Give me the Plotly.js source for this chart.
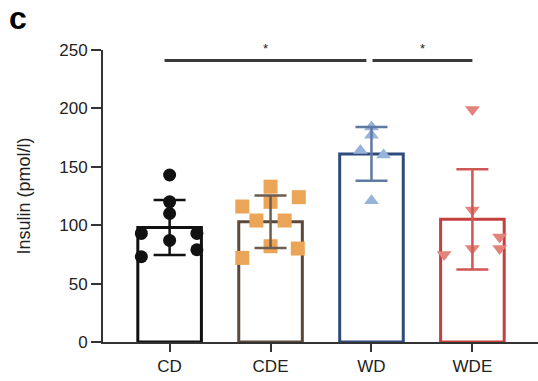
<!DOCTYPE html>
<html>
<head>
<meta charset="utf-8">
<script src="https://cdn.plot.ly/plotly-3.0.1.min.js"></script>
<style>html,body{margin:0;padding:0;background:#fff}#chart{width:538px;height:381px}</style>
</head>
<body>
<div id="chart"></div>
<script>
// ---- data ----
const groups = ["CD", "CDE", "WD", "WDE"];
const means = [98, 103, 161, 105];
const sds = [23.5, 22.5, 23, 43];
const cdValues = [143, 120, 110, 93, 93, 87, 73, 79];
const cdJitter = [0, 0, 0, -0.28, 0.27, 0, -0.28, 0.27];
const cdeValues = [133, 120, 124, 116, 104, 104, 82, 80, 72];
const cdeJitter = [0, 0, 0.28, -0.28, -0.14, 0.14, 0, 0.27, -0.28];
const wdValues = [184, 177, 164, 160, 121];
const wdJitter = [0, 0, -0.11, 0.12, 0];
const wdeValues = [199, 113, 90, 80, 80, 75];
const wdeJitter = [0, 0, 0.27, 0.27, 0, -0.28];
const comparisons = [[0, 2], [2, 3]];
const compLabels = ["*", "*"];
const compLevel = 241;
const yTicks = [0, 50, 100, 150, 200, 250];

// ---- styles ----
const barLine = ["#111111", "#5b4a3b", "#2f4b7c", "#c4403e"];
const errColor = ["#111111", "#6b5d50", "#5f7aa3", "#cf5753"];
const ptColor = ["#111111", "#eba557", "#98b3d9", "#e3837a"];
const symbols = ["circle", "square", "triangle-up", "triangle-down"];
const ptSize = [13, 14, 13, 13];
const pts = [[cdValues, cdJitter], [cdeValues, cdeJitter], [wdValues, wdJitter], [wdeValues, wdeJitter]];

const traces = [];
groups.forEach((g, i) => {
  traces.push({
    type: "bar", x: [i], y: [means[i]], width: 0.63,
    marker: {color: "rgba(255,255,255,0)", line: {color: barLine[i], width: 3}},
    hoverinfo: "skip", showlegend: false
  });
});
groups.forEach((g, i) => {
  const [vals, jit] = pts[i];
  traces.push({
    type: "scatter", mode: "markers",
    x: vals.map((v, k) => i + jit[k]), y: vals,
    marker: {symbol: symbols[i], size: ptSize[i], color: ptColor[i], line: {width: 0}},
    showlegend: false, hoverinfo: "skip"
  });
});
groups.forEach((g, i) => {
  traces.push({
    type: "scatter", mode: "markers", x: [i], y: [means[i]],
    marker: {size: 1, color: "rgba(0,0,0,0)"},
    error_y: {type: "data", array: [sds[i]], visible: true, color: errColor[i], thickness: 2.5, width: 16},
    showlegend: false, hoverinfo: "skip"
  });
});

const shapes = [];
const annotations = [];
comparisons.forEach((c, k) => {
  const x0 = c[0] + (k === 0 ? -0.05 : 0.01);
  const x1 = c[1] + (k === 0 ? -0.05 : 0.0);
  shapes.push({type: "line", xref: "x", yref: "y", x0: x0, x1: x1, y0: compLevel, y1: compLevel,
    line: {color: "#3a3a3a", width: 3}});
  annotations.push({xref: "x", yref: "y", x: (x0 + x1) / 2, y: compLevel + 2, text: compLabels[k],
    showarrow: false, yanchor: "bottom", font: {family: "Liberation Sans, Arial", size: 13, color: "#222"}});
});
annotations.push({xref: "paper", yref: "paper", x: 0, y: 1, xshift: -96, yshift: 52, text: "<b>c</b>",
  showarrow: false, xanchor: "left", yanchor: "top", font: {family: "Liberation Sans, Arial", size: 32, color: "#000"}});

const layout = {
  width: 538, height: 381,
  margin: {l: 103, r: 0, t: 50, b: 39},
  paper_bgcolor: "#fff", plot_bgcolor: "#fff",
  font: {family: "Liberation Sans, Arial, sans-serif", size: 17, color: "#222"},
  xaxis: {range: [-0.66, 3.65], tickvals: [0, 1, 2, 3], ticktext: groups, showgrid: false, zeroline: false,
    showline: true, linecolor: "#333", linewidth: 2, ticks: "outside", ticklen: 8, tickwidth: 2, tickcolor: "#333",
    tickfont: {size: 17, color: "#222"}, fixedrange: true, automargin: false},
  yaxis: {range: [0, 250], tickvals: yTicks, showgrid: false, zeroline: false,
    showline: true, linecolor: "#333", linewidth: 2, ticks: "outside", ticklen: 10, tickwidth: 2, tickcolor: "#333",
    tickfont: {size: 17, color: "#222"}, automargin: false,
    title: {text: "Insulin (pmol/l)", font: {size: 18, color: "#222"}, standoff: 24}},
  shapes: shapes, annotations: annotations, barmode: "overlay", bargap: 0
};
Plotly.newPlot("chart", traces, layout, {displayModeBar: false, staticPlot: true});
</script>
</body>
</html>
